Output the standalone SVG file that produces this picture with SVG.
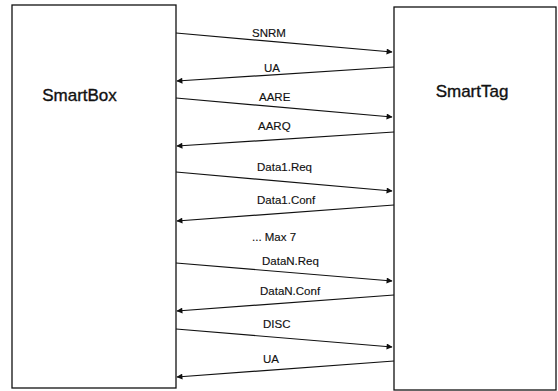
<svg xmlns="http://www.w3.org/2000/svg" width="558" height="391" viewBox="0 0 558 391">
<style>
.box{fill:#fff;stroke:#111;stroke-width:1.3}
.msg{stroke:#111;stroke-width:1.2;fill:none}
.lbl{font-family:"Liberation Sans",Arial,sans-serif;font-size:11.5px;fill:#111;stroke:#111;stroke-width:0.15}
.big{font-family:"Liberation Sans",Arial,sans-serif;font-size:17px;fill:#111;stroke:#111;stroke-width:0.35;text-anchor:middle}
</style>
<defs>
<marker id="ah" viewBox="0 0 10 10" refX="9" refY="5" markerWidth="9" markerHeight="6" markerUnits="userSpaceOnUse" orient="auto">
<path d="M0,0 L10,5 L0,10 Z" fill="#111"/>
</marker>
</defs>
<rect width="558" height="391" fill="#fff"/>
<g id="smartbox">
<rect class="box" x="12" y="5" width="164" height="383"/>
<text class="big" x="79.5" y="101">SmartBox</text>
</g>
<g id="smarttag">
<rect class="box" x="394" y="7" width="162" height="383"/>
<text class="big" x="472" y="97">SmartTag</text>
</g>
<g id="connectors">
<line class="msg" x1="176" y1="33" x2="392" y2="52" marker-end="url(#ah)"/>
<line class="msg" x1="394" y1="67" x2="177" y2="81" marker-end="url(#ah)"/>
<line class="msg" x1="176" y1="98" x2="392" y2="117" marker-end="url(#ah)"/>
<line class="msg" x1="394" y1="132" x2="177" y2="146" marker-end="url(#ah)"/>
<line class="msg" x1="176" y1="172" x2="392" y2="191" marker-end="url(#ah)"/>
<line class="msg" x1="394" y1="205" x2="177" y2="221" marker-end="url(#ah)"/>
<line class="msg" x1="176" y1="263" x2="392" y2="281" marker-end="url(#ah)"/>
<line class="msg" x1="394" y1="295" x2="177" y2="311" marker-end="url(#ah)"/>
<line class="msg" x1="176" y1="329" x2="392" y2="347" marker-end="url(#ah)"/>
<line class="msg" x1="394" y1="361" x2="177" y2="377" marker-end="url(#ah)"/>
</g>
<g id="labels">
<text class="lbl" x="252" y="37">SNRM</text>
<text class="lbl" x="264" y="72">UA</text>
<text class="lbl" x="259" y="101">AARE</text>
<text class="lbl" x="258" y="130">AARQ</text>
<text class="lbl" x="257" y="171">Data1.Req</text>
<text class="lbl" x="257" y="204">Data1.Conf</text>
<text class="lbl" x="252" y="241">... Max 7</text>
<text class="lbl" x="262" y="265">DataN.Req</text>
<text class="lbl" x="260" y="295">DataN.Conf</text>
<text class="lbl" x="263" y="328">DISC</text>
<text class="lbl" x="263" y="363">UA</text>
</g>
</svg>
